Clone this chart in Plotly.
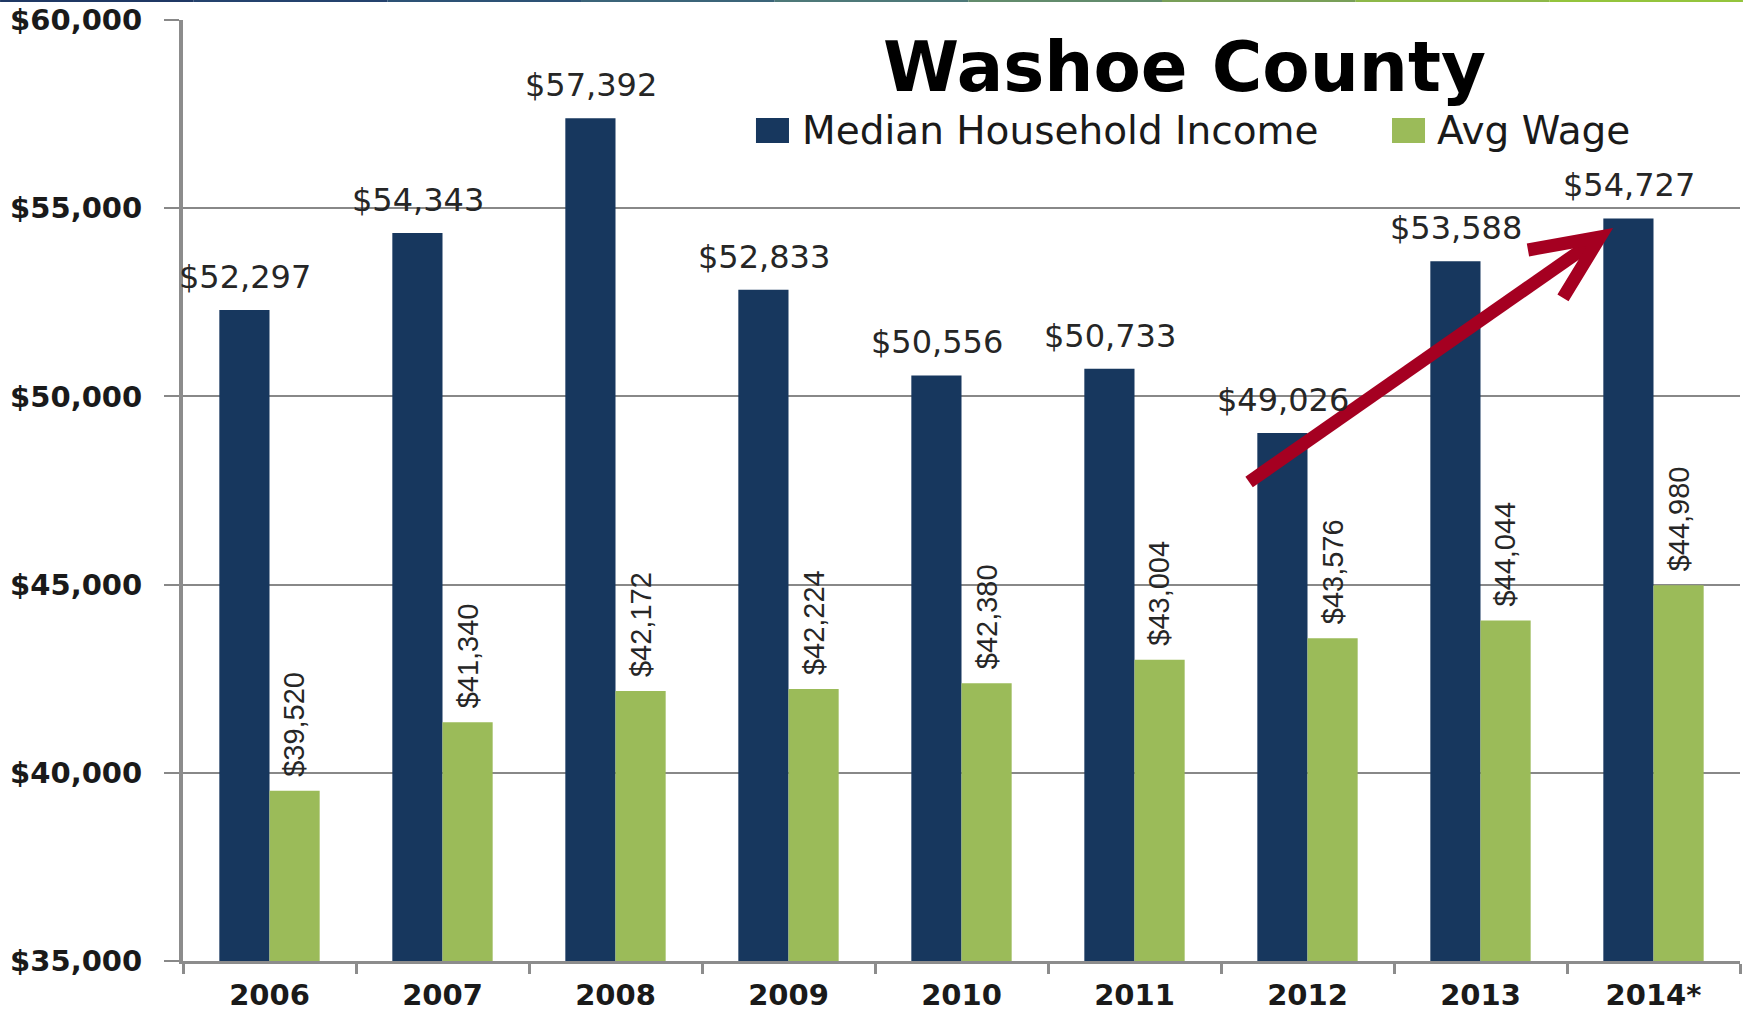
import plotly.graph_objects as go

# dados
years = ["2006", "2007", "2008", "2009", "2010", "2011", "2012", "2013", "2014*"]
median_income = [52297, 54343, 57392, 52833, 50556, 50733, 49026, 53588, 54727]
avg_wage = [39520, 41340, 42172, 42224, 42380, 43004, 43576, 44044, 44980]
series_names = ["Median Household Income", "Avg Wage"]

COLOR_NAVY = "#17375E"
COLOR_GREEN = "#9BBB59"
COLOR_ARROW = "#A50021"
COLOR_GRID = "#888888"
COLOR_TEXT = "#1a1a1a"

fig = go.Figure()
fig.add_trace(go.Bar(x=years, y=median_income, name=series_names[0],
                     marker=dict(color=COLOR_NAVY, line=dict(width=0))))
fig.add_trace(go.Bar(x=years, y=avg_wage, name=series_names[1],
                     marker=dict(color=COLOR_GREEN, line=dict(width=0))))

# rótulos de dados (x = índice da categoria)
for i, v in enumerate(median_income):
    fig.add_annotation(x=i, y=v, text=f"${v:,}", showarrow=False, xshift=-25, yshift=12,
                       yanchor="bottom", font=dict(family="DejaVu Sans", size=32, color="#262626"))
for i, v in enumerate(avg_wage):
    fig.add_annotation(x=i, y=v, text=f"${v:,}", showarrow=False, xshift=25, yshift=12,
                       yanchor="bottom", textangle=-90,
                       font=dict(family="Liberation Sans Narrow, Arial Narrow, Liberation Sans, sans-serif",
                                 size=29, color="#262626"))

# título
fig.add_annotation(x=0.643, y=0.950, xref="paper", yref="paper", text="<b>Washoe County</b>",
                   showarrow=False, xanchor="center", yanchor="middle",
                   font=dict(family="Arial Black, DejaVu Sans", size=69, color="black"))

# legenda (quadrados grandes como no original)
legend_items = [(COLOR_NAVY, 0.3680, 0.3892, 0.3963), (COLOR_GREEN, 0.7765, 0.7977, 0.8041)]
for name, (col, x0, x1, xt) in zip(series_names, legend_items):
    fig.add_shape(type="rect", xref="paper", yref="paper", x0=x0, x1=x1, y0=0.8693, y1=0.8959,
                  line=dict(width=0), fillcolor=col)
    fig.add_annotation(x=xt, y=0.8831, xref="paper", yref="paper", text=name, showarrow=False,
                       xanchor="left", yanchor="middle",
                       font=dict(family="DejaVu Sans", size=39, color=COLOR_TEXT))

# seta de tendência
fig.add_shape(type="path", xref="paper", yref="paper",
              path="M0.6847,0.5090 L0.9037,0.7620",
              line=dict(color=COLOR_ARROW, width=13))
fig.add_shape(type="path", xref="paper", yref="paper",
              path="M0.8638,0.7556 L0.9101,0.7694 L0.8863,0.7046",
              line=dict(color=COLOR_ARROW, width=13))

# faixa fina no topo
top_colors = ["#1F3864", "#24426d", "#2d5275", "#3b6479", "#4d7878", "#628b6c", "#789f58", "#8db848", "#94c43c"]
n = len(top_colors)
for i, c in enumerate(top_colors):
    fig.add_shape(type="rect", xref="paper", yref="paper",
                  x0=-0.1175 + i * (1.1194 / n), x1=-0.1175 + (i + 1) * (1.1194 / n),
                  y0=1.0192, y1=1.0215, line=dict(width=0), fillcolor=c)

fig.update_layout(
    width=1743, height=1015,
    margin=dict(l=183, r=3, t=20, b=54, autoexpand=False),
    paper_bgcolor="white", plot_bgcolor="white",
    barmode="group", bargap=0.42, bargroupgap=0,
    font=dict(family="DejaVu Sans", color=COLOR_TEXT),
    showlegend=False,
)
fig.update_yaxes(range=[35000, 60000], dtick=5000, tickformat="$,.0f", automargin=False,
                 showgrid=True, gridcolor=COLOR_GRID, gridwidth=2,
                 showline=True, linecolor="#8c8c8c", linewidth=4,
                 ticks="outside", ticklen=15, tickcolor=COLOR_GRID, tickwidth=2,
                 ticklabelstandoff=16,
                 tickfont=dict(family="DejaVu Sans", size=29, color=COLOR_TEXT, weight="bold"))
fig.update_xaxes(type="category", range=[-0.5, len(years) - 0.5], automargin=False, tickangle=0,
                 showline=True, linecolor="#8c8c8c", linewidth=3,
                 ticks="outside", tickson="boundaries", ticklen=10, tickcolor="#8c8c8c", tickwidth=3,
                 ticklabelstandoff=6,
                 tickfont=dict(family="DejaVu Sans", size=29, color=COLOR_TEXT, weight="bold"))

# sem margem do body, para o gráfico ocupar a janela inteira
fig.write_html("out.html", config={"displayModeBar": False},
               post_script="document.body.style.margin='0px';")
